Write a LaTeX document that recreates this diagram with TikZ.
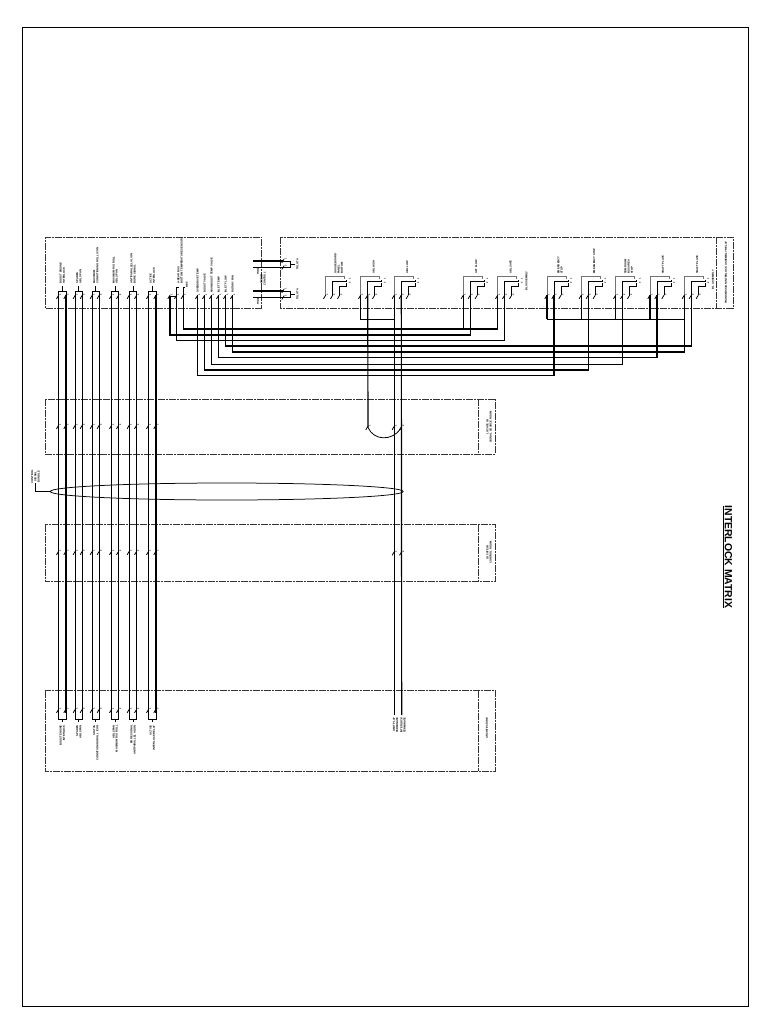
\documentclass[tikz,border=0pt]{standalone}
\usepackage{fontspec}
\setmainfont{Liberation Sans}
\usetikzlibrary{shapes.geometric}

\tikzset{
  wire/.style={draw=black, line width=1.15pt},
  stub/.style={draw=black, line width=0.8pt},
  greystub/.style={draw=black!55, line width=0.7pt},
  dashbox/.style={draw=black!80, line width=0.9pt, dash pattern=on 7pt off 1pt on 2pt off 1pt},
  lab/.style={rotate=90, inner sep=0pt, font=\fontsize{2.7}{3.2}\selectfont\bfseries},
  toplab/.style={lab, anchor=west, align=left},
  botlab/.style={lab, anchor=east, align=right},
  pinnum/.style={rotate=90, inner sep=0pt, font=\fontsize{2.4}{2.4}\selectfont\bfseries},
  pinmark/.pic={
    \draw[line width=0.8pt] (-2.2,1.8) -- (0,-1.8);
    \node[pinnum] at (1.6,-1.8) {\tikzpictext};
  },
  pic text=1
}

\begin{document}
\begin{tikzpicture}[x=1pt, y=-1pt]

   \useasboundingbox (0,0) rectangle (768,1024);
   \fill[white] (0,0) rectangle (768,1024);

   \draw[line width=0.8pt] (22,27) rectangle (748,1006);

   \draw[dashbox] (261.5,308.3) -- (45,308.3) -- (45,237.3) -- (261.5,237.3) -- cycle;
   \draw[dashbox] (280.3,237.3) rectangle (733,308.3);
   \draw[dashbox] (716,237.3) -- (716,308.3);
   \foreach \t/\b in {399.3/454, 524.7/581.3, 690.7/771} {
     \draw[dashbox] (45,\t) rectangle (495.7,\b);
     \draw[dashbox] (478.2,\t) -- (478.2,\b);
   }

   \node[lab, align=center] (titleb) at (489,427) {LOCATE IB\\SIGNAL SOURCE ROOM};
   \node[lab, align=center] (titlec) at (489,552.5) {LOCATE IB\\CONTROL ROOM};
   \node[lab] (titled) at (487,728) {ARCHITECTURE};
   \node[lab] (titlee) at (726,272.5) {TRANSMISSION INTERLOCK ASSEMBLY RELAY};
   \node[lab] (titlef) at (713,279.5) {BL ASSEMBLY};
   \node[lab] (titleg) at (526.5,281) {BL ASSEMBLY};

   \foreach \n/\a/\b/\u/\v in {
     1/58.7/66/{BOOST ENGINE\\INTERLOCK}/{BOOST ENGINE\\INTERLOCK},
     2/75.3/82.3/{SPARES\\ABL SPAN}/{SPARES\\ABL SPAN},
     3/92.3/99.3/{MAXIMUM\\CONDITIONING ROLL ICON}/{STATUS\\CONDITIONING ROLL ICON},
     4/111.7/118.7/{MAXIMUM RIG ROLL\\ABL SPAN}/{ABL SPAN\\MAXIMUM RIG ROLL},
     5/129.3/136.7/{ANTIPARALLEL ALIGN\\BORE SIGNAL}/{BORE SIGNAL\\ANTIPARALLEL ALIGN},
     6/148.7/156/{ACTIVE\\INTERLOCK}/{ACTIVE\\INTERLOCK RELAY}} {
     \coordinate (pa\n) at (\a,295);
     \coordinate (pb\n) at (\b,295);
     \coordinate (qa\n) at (\a,712.5);
     \coordinate (qb\n) at (\b,712.5);
     \draw[wire] (pa\n) -- (qa\n);
     \draw[wire] (pb\n) -- (qb\n);
     \draw[stub] (\a,295) -- (\a,291) -- (\b,291) -- (\b,295);
     \draw[stub] (\a/2+\b/2,291) -- (\a/2+\b/2,286);
     \draw[stub] (\a,712.5) -- (\a,719) -- (\b,719) -- (\b,712.5);
     \draw[stub] (\a/2+\b/2,719) -- (\a/2+\b/2,722);
     \node[toplab] (up\n) at (\a/2+\b/2,283.5) {\u};
     \node[botlab] (dn\n) at (\a/2+\b/2,725) {\v};
     \foreach \y in {297,427,553,711} {
       \pic[pic text=1] at (\a,\y) {pinmark};
       \pic[pic text=2] at (\b,\y) {pinmark};
     }
   }

   \foreach \n/\x in {1/170, 2/176.7, 3/183.3, 4/197.7, 5/204.7, 6/211.7, 7/218.7, 8/225.7, 9/232.7} {
     \coordinate (s\n) at (\x,296);
     \pic[pic text=1] at (\x,297) {pinmark};
   }
   \node[toplab] (smain) at (180,284) {A-REAR BUS\\BOTTOM TEMPERATURE SENSOR};
   \node[lab] (sref) at (187,285) {REF};
   \draw[stub] (s1) -- (s2);
   \draw[wire] (s2) -- (176.7,287);
   \draw[wire] (s3) -- (183.3,287);
   \draw[stub] (176.7,287) -- (178.7,287);
   \draw[stub] (183.3,287) -- (185.3,287);
   \node[toplab] (sa) at (197.7,293) {OVERDRIVE TEMP};
   \node[toplab] (sb) at (204.7,293) {BOOST VALVE};
   \node[toplab] (sc) at (211.7,293) {MAIN BOOST TEMP VALVE};
   \node[toplab] (sd) at (218.7,293) {INLET TEMP};
   \node[toplab] (se) at (225.7,293) {INLET FLOW};
   \node[toplab] (sf) at (232.7,293) {ROTARY FAN};

   \foreach \n/\x/\t in {
     1/325.7/{GAUGE BOARD\\PANEL\\BOTTOM},
     2/360.7/{ABL HIGH},
     3/394.3/{ABL LOW},
     4/463.3/{AFT FLOW},
     5/497.7/{ABL SAFE},
     6/547/{EMERGENCY\\STOP},
     7/581.3/{EMERGENCY STOP},
     8/615.7/{TBM ROOM\\BUS AREA\\STOP},
     9/650/{SHAFT PLATE},
     10/684.3/{SHAFT PLATE}} {
     \coordinate (a\n) at (\x,295);
     \coordinate (b\n) at (\x+7,295);
     \coordinate (c\n) at (\x+14,295);
     \draw[greystub] (a\n) -- (\x,276.7) -- (\x+19,276.7) -- (\x+19,279);
     \draw[stub] (b\n) -- (\x+7,281) -- (\x+21,281) -- (\x+21,279.5);
     \draw[stub, line width=1pt] (c\n) -- (\x+14,286) -- (\x+21,286) -- (\x+21,283);
     \node[toplab] (devlab\n) at (\x+13,274) {\t};
     \node[pinnum] (nuba\n) at (\x+24,279) {1};
     \node[pinnum] (nubb\n) at (\x+24,283) {2};
     \pic[pic text=1] at (\x,297) {pinmark};
     \pic[pic text=2] at (\x+7,297) {pinmark};
     \pic[pic text=3] at (\x+14,297) {pinmark};
   }

   \draw[wire] (s3) -- (183.3,329) -- (497.7,329) -- (a5);
   \draw[wire] (463.3,329) -- (a4);
   \draw[wire] (s1) -- (170,335) -- (470.3,335) -- (b4);
   \draw[wire] (s2) -- (176.7,340.2) -- (504.7,340.2) -- (b5);
   \draw[wire] (s8) -- (225.7,346) -- (691.3,346) -- (b10);
   \draw[wire] (s9) -- (232.7,352) -- (684.3,352) -- (a10);
   \draw[wire] (s7) -- (218.7,357.3) -- (657,357.3) -- (b9);
   \draw[wire] (s6) -- (211.7,364.3) -- (622.7,364.3) -- (b8);
   \draw[wire] (s5) -- (204.7,370) -- (588.3,370) -- (b7);
   \draw[wire] (s4) -- (197.7,375.5) -- (554,375.5) -- (b6);
   \draw[wire] (547,319.3) -- (684.3,319.3);
   \foreach \n in {6,7,8,9} {
     \draw[wire] (a\n) -- (a\n |- 0,319.3);
   }

   \coordinate (arca) at (368,427.5);
   \coordinate (arcb) at (400.5,429);
   \coordinate (enda) at (394.3,715);
   \coordinate (endb) at (401.7,715);
   \draw[wire] (a2) -- (360.7,319.3) -- (394.3,319.3);
   \draw[wire] (b2) -- (arca);
   \draw[wire] (a3) -- (enda);
   \draw[wire] (b3) -- (endb);
   \draw[stub] (arca) .. controls (374,441) and (392,441) .. (arcb);
   \foreach \x/\t in {368/1, 394.3/1, 401.7/2} {
     \pic[pic text=\t] at (\x,428) {pinmark};
   }
   \foreach \x/\t in {394.3/1, 401.7/2} {
     \pic[pic text=\t] at (\x,553.5) {pinmark};
   }
   \node[botlab] (enda1) at (395.5,717) {LIMIT PLAY\\TERMINATE};
   \node[botlab] (endb1) at (403,717) {INTERLOCK\\TERMINATE};

   \foreach \n/\ya/\yb in {1/261/267.7, 2/291/297.7} {
     \coordinate (ra\n) at (253.3,\ya);
     \coordinate (rb\n) at (253.3,\yb);
     \coordinate (rc\n) at (290,\ya/2+\yb/2);
     \coordinate (rd\n) at (295,\ya/2+\yb/2);
     \draw[wire] (ra\n) -- (283,\ya);
     \draw[wire] (rb\n) -- (283,\yb);
     \draw[stub] (283,\ya) -- (290,\ya) -- (290,\yb) -- (283,\yb);
     \draw[stub] (rc\n) -- (rd\n);
     \node[lab] (rlab\n) at (297.5,\ya/2+\yb/2) {TOLOTA};
     \pic[pic text=1] at (284,\ya) {pinmark};
     \pic[pic text=2] at (284,\yb) {pinmark};
   }
   \node[lab, align=center] (linter) at (263,279) {SHIELD\\CONTROL};
   \node[lab] (lhole) at (258,301) {HOLD};
   \node[lab] (lhola) at (258,271) {HOLD};

   \node[draw, ellipse, line width=0.75pt, minimum width=353pt, minimum height=17pt, inner sep=0pt] (bundle) at (226.7,491.5) {};
   \coordinate (lead) at (35.7,483);
   \draw[stub] (bundle.west) -- (35.7,491.5) -- (lead);
   \node[lab, align=center] (leadlab) at (35.5,476.5) {CONTROL\\SIGNAL\\BUNDLE};

   \node[rotate=-90, inner sep=0pt, font=\fontsize{10.4}{12}\selectfont\bfseries] (mtitle) at (727.5,557) {\underline{INTERLOCK MATRIX}};

\end{tikzpicture}
\end{document}
